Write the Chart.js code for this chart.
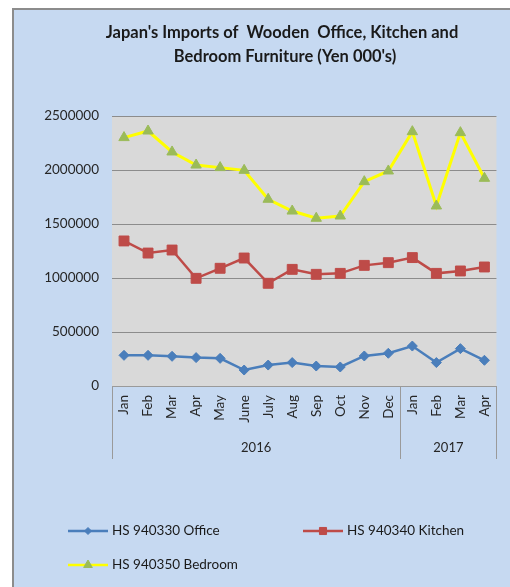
<!DOCTYPE html>
<html>
<head>
<meta charset="utf-8">
<script src="https://cdn.jsdelivr.net/npm/chart.js@4.4.1/dist/chart.umd.min.js"></script>
<style>
html,body{margin:0;padding:0;background:#fff;}
#wrap{position:relative;width:510px;height:587px;}
canvas{display:block;}
</style>
</head>
<body>
<div id="wrap"><canvas id="c" width="510" height="587"></canvas></div>
<script>
const titleLines = ["Japan's Imports of  Wooden  Office, Kitchen and", "Bedroom Furniture (Yen 000's)"];
const months = ["Jan","Feb","Mar","Apr","May","June","July","Aug","Sep","Oct","Nov","Dec","Jan","Feb","Mar","Apr"];
const years = ["2016","2017"];
const yearSpans = [12, 4];
const yTicks = [0, 500000, 1000000, 1500000, 2000000, 2500000];
const seriesNames = ["HS 940330 Office", "HS 940340 Kitchen", "HS 940350 Bedroom"];
const office = [284000,284000,275000,263000,256000,148000,194000,217000,185000,176000,278000,303000,370000,217000,346000,238000];
const kitchen = [1343000,1231000,1259000,997000,1090000,1185000,951000,1080000,1034000,1043000,1117000,1142000,1189000,1043000,1065000,1102000];
const bedroom = [2300000,2361000,2167000,2046000,2022000,1997000,1729000,1620000,1553000,1574000,1892000,1991000,2355000,1667000,2346000,1923000];

const FONT = "Lato, 'Open Sans', sans-serif";

const bgPlugin = {
  id: 'bg',
  beforeDraw(chart) {
    const ctx = chart.ctx, a = chart.chartArea;
    ctx.save();
    ctx.fillStyle = '#ffffff';
    ctx.fillRect(0, 0, chart.width, chart.height);
    ctx.fillStyle = '#c6d9f1';
    ctx.fillRect(12, 8, chart.width - 12, chart.height - 8);
    ctx.strokeStyle = '#8c8c8c';
    ctx.lineWidth = 2;
    ctx.beginPath();
    ctx.moveTo(13, chart.height);
    ctx.lineTo(13, 9);
    ctx.lineTo(chart.width, 9);
    ctx.stroke();
    ctx.fillStyle = '#d9d9d9';
    ctx.fillRect(a.left, a.top, a.right - a.left, a.bottom - a.top);
    // title
    ctx.fillStyle = '#1a1a1a';
    ctx.font = "bold 16.5px " + FONT;
    ctx.textAlign = 'center';
    ctx.textBaseline = 'middle';
    ctx.fillText(titleLines[0], 282, 33);
    ctx.fillText(titleLines[1], 285, 57);
    ctx.restore();
  },
  afterDraw(chart) {
    const ctx = chart.ctx, a = chart.chartArea, xs = chart.scales.x;
    const step = (xs.getPixelForTick(1) - xs.getPixelForTick(0));
    ctx.save();
    ctx.strokeStyle = '#9a9a9a';
    ctx.lineWidth = 1;
    let idx = 0;
    const bounds = [];
    for (let g = 0; g <= yearSpans.length; g++) {
      const x = idx === 0 ? a.left : (idx >= months.length ? a.right : xs.getPixelForTick(idx) - step / 2);
      bounds.push(x);
      if (g < yearSpans.length) idx += yearSpans[g];
    }
    bounds.forEach(x => {
      ctx.beginPath();
      ctx.moveTo(Math.round(x) + 0.5, a.bottom);
      ctx.lineTo(Math.round(x) + 0.5, a.bottom + 73);
      ctx.stroke();
    });
    ctx.fillStyle = '#262626';
    ctx.font = "13px " + FONT;
    ctx.textAlign = 'center';
    ctx.textBaseline = 'middle';
    years.forEach((y, i) => {
      ctx.fillText(y, (bounds[i] + bounds[i + 1]) / 2, a.bottom + 62);
    });
    // legend
    const items = [
      {ds: 0, x: 68, y: 531},
      {ds: 1, x: 303, y: 531},
      {ds: 2, x: 68, y: 565}
    ];
    ctx.font = "13.5px " + FONT;
    ctx.textAlign = 'left';
    items.forEach(it => {
      const d = chart.data.datasets[it.ds];
      ctx.strokeStyle = d.borderColor;
      ctx.lineWidth = 2.5;
      ctx.beginPath();
      ctx.moveTo(it.x, it.y);
      ctx.lineTo(it.x + 40, it.y);
      ctx.stroke();
      ctx.fillStyle = d.pointBackgroundColor;
      ctx.strokeStyle = d.pointBorderColor;
      ctx.lineWidth = 1;
      Chart.helpers.drawPoint(ctx, {pointStyle: d.pointStyle, radius: d.legendRadius, borderWidth: 1}, it.x + 20, it.y);
      ctx.fillStyle = '#1a1a1a';
      ctx.fillText(d.label, it.x + 44, it.y);
    });
    ctx.restore();
  }
};

new Chart(document.getElementById('c'), {
  type: 'line',
  data: {
    labels: months,
    datasets: [
      {label: seriesNames[0], data: office, borderColor: '#4a7ebb', backgroundColor: '#4a7ebb',
       pointBackgroundColor: '#4a7ebb', pointBorderColor: '#4a7ebb', borderWidth: 2.5,
       pointStyle: 'rectRot', pointRadius: 5, pointBorderWidth: 1, legendRadius: 3.5, tension: 0},
      {label: seriesNames[1], data: kitchen, borderColor: '#be4b48', backgroundColor: '#be4b48',
       pointBackgroundColor: '#be4b48', pointBorderColor: '#be4b48', borderWidth: 2.5,
       pointStyle: 'rect', pointRadius: 7, pointBorderWidth: 1, legendRadius: 5, tension: 0},
      {label: seriesNames[2], data: bedroom, borderColor: '#ffff00', backgroundColor: '#ffff00',
       pointBackgroundColor: '#9bbb59', pointBorderColor: '#9bbb59', borderWidth: 3,
       pointStyle: 'triangle', pointRadius: 6, pointBorderWidth: 1, legendRadius: 5, tension: 0}
    ]
  },
  options: {
    responsive: false,
    animation: false,
    devicePixelRatio: 1,
    layout: {padding: {left: 0, right: 12, top: 116, bottom: 128}},
    plugins: {legend: {display: false}, title: {display: false}, tooltip: {enabled: false}},
    scales: {
      x: {
        offset: true,
        grid: {display: false, drawTicks: false},
        border: {display: true, color: '#9a9a9a', width: 1},
        ticks: {autoSkip: false, minRotation: 90, maxRotation: 90, padding: 9,
                color: '#262626', font: {family: FONT, size: 13.5}},
        afterFit(s) { s.height = 73; }
      },
      y: {
        min: 0, max: 2500000,
        afterBuildTicks(s) { s.ticks = yTicks.map(v => ({value: v})); },
        grid: {color: '#8c8c8c', lineWidth: 1, drawTicks: false},
        border: {display: false},
        ticks: {padding: 13, color: '#262626', font: {family: FONT, size: 13.5},
                callback: v => String(v)},
        afterFit(s) { s.width = 112; }
      }
    }
  },
  plugins: [bgPlugin]
});
</script>
</body>
</html>
